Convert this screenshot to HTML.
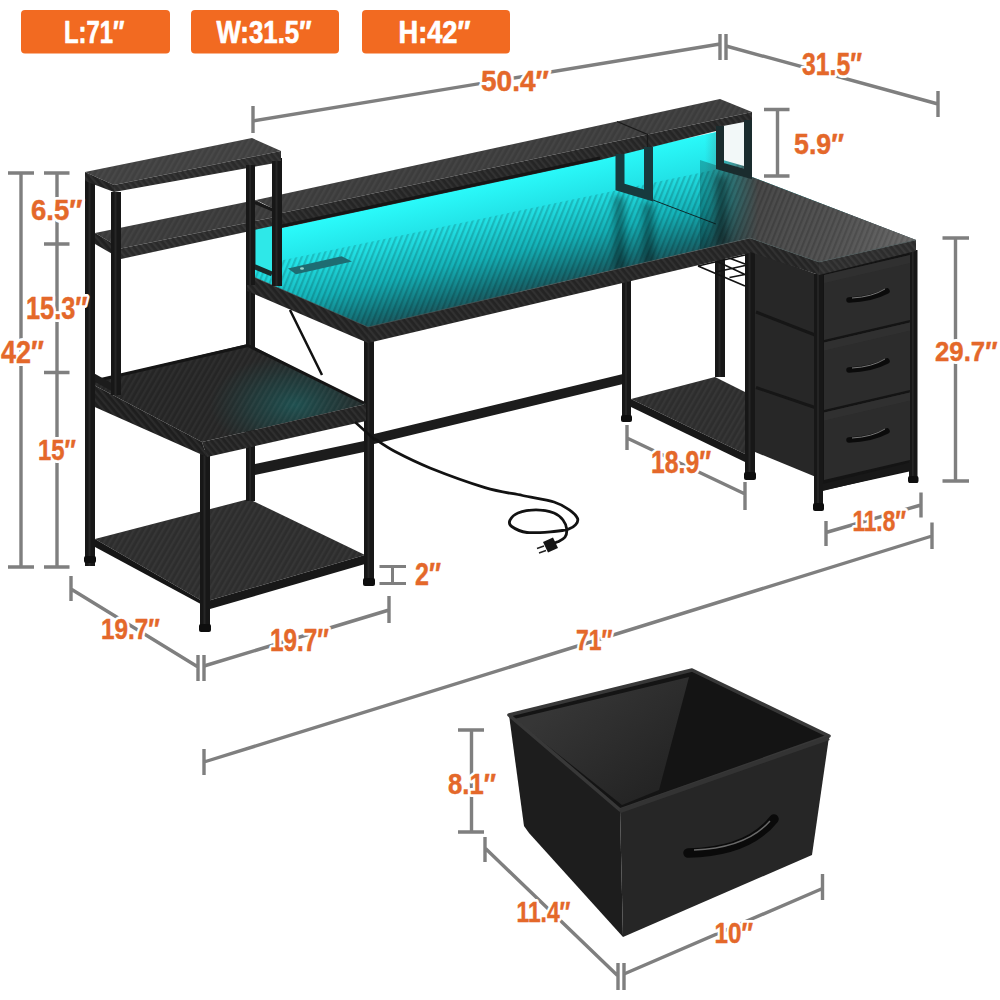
<!DOCTYPE html>
<html><head><meta charset="utf-8">
<style>
html,body{margin:0;padding:0;background:#fff;width:1000px;height:1000px;overflow:hidden}
svg{display:block}
.dl{stroke:#7f7f7f;stroke-width:3.4;fill:none;stroke-linecap:butt}
.lt{font-family:"Liberation Sans",sans-serif;font-weight:bold;fill:#fff;stroke:#fff;stroke-width:0.7;stroke-linejoin:round}
</style></head>
<body>
<svg width="1000" height="1000" viewBox="0 0 1000 1000">
<defs>
  <linearGradient id="gDesk" gradientUnits="userSpaceOnUse" x1="500" y1="180" x2="527" y2="298">
    <stop offset="0" stop-color="#2afafa"/>
    <stop offset="0.3" stop-color="#22e2e6"/>
    <stop offset="0.6" stop-color="#14b2b8"/>
    <stop offset="0.85" stop-color="#147278"/>
    <stop offset="1" stop-color="#1e4e54"/>
  </linearGradient>
  <linearGradient id="gDeskR" gradientUnits="userSpaceOnUse" x1="705" y1="0" x2="758" y2="0">
    <stop offset="0" stop-color="#555" stop-opacity="0"/>
    <stop offset="1" stop-color="#555" stop-opacity="1"/>
  </linearGradient>
  <linearGradient id="gRetSpec" gradientUnits="userSpaceOnUse" x1="700" y1="200" x2="910" y2="250">
    <stop offset="0" stop-color="#000" stop-opacity="0.25"/>
    <stop offset="0.45" stop-color="#000" stop-opacity="0.05"/>
    <stop offset="1" stop-color="#fff" stop-opacity="0.14"/>
  </linearGradient>
  <linearGradient id="gBinL" gradientUnits="userSpaceOnUse" x1="560" y1="700" x2="640" y2="800">
    <stop offset="0" stop-color="#363636"/>
    <stop offset="1" stop-color="#242424"/>
  </linearGradient>
  <linearGradient id="gShelf" gradientUnits="userSpaceOnUse" x1="120" y1="0" x2="360" y2="0">
    <stop offset="0" stop-color="#2e2e2e"/>
    <stop offset="0.55" stop-color="#263c3c"/>
    <stop offset="1" stop-color="#205052"/>
  </linearGradient>
  <radialGradient id="gShelfR" gradientUnits="userSpaceOnUse" cx="295" cy="405" r="85" gradientTransform="translate(295 405) scale(1 0.6) rotate(-20) translate(-295 -405)">
    <stop offset="0" stop-color="#1d5454" stop-opacity="0.9"/>
    <stop offset="0.5" stop-color="#1d4848" stop-opacity="0.55"/>
    <stop offset="1" stop-color="#1f4040" stop-opacity="0"/>
  </radialGradient>
  <linearGradient id="gDrawer" gradientUnits="userSpaceOnUse" x1="0" y1="0" x2="0" y2="1" >
    <stop offset="0" stop-color="#333"/><stop offset="1" stop-color="#262626"/>
  </linearGradient>
  <filter id="bl" x="-50%" y="-50%" width="200%" height="200%"><feGaussianBlur stdDeviation="3.5"/></filter>
  <pattern id="cf" width="5" height="5" patternUnits="userSpaceOnUse" patternTransform="rotate(30)">
    <rect width="2.2" height="5" fill="#fff" fill-opacity="0.045"/>
  </pattern>
  <pattern id="cfd" width="5" height="5" patternUnits="userSpaceOnUse" patternTransform="rotate(22)">
    <rect width="2.2" height="5" fill="#000" fill-opacity="0.17"/>
  </pattern>
  <pattern id="cff" width="5" height="5" patternUnits="userSpaceOnUse" patternTransform="rotate(-40)">
    <rect width="2.2" height="5" fill="#fff" fill-opacity="0.06"/>
  </pattern>
</defs>
<rect x="21" y="10" width="149" height="43.5" rx="4" fill="#f26a21"/>
<rect x="191" y="10" width="148" height="43.5" rx="4" fill="#f26a21"/>
<rect x="362" y="10" width="148" height="43.5" rx="4" fill="#f26a21"/>
<text class="lt" x="64" y="43.3" font-size="31" textLength="60.5" lengthAdjust="spacingAndGlyphs">L:71″</text>
<text class="lt" x="216.5" y="43.3" font-size="31" textLength="95" lengthAdjust="spacingAndGlyphs">W:31.5″</text>
<text class="lt" x="398.5" y="43.3" font-size="31" textLength="72" lengthAdjust="spacingAndGlyphs">H:42″</text>
<g class="dl">
  <path d="M253 106V133 M253 121 L720 44 M720 34V60 M726 34V60"/>
  <path d="M726 46 L938 104 M938 91V117"/>
  <path d="M764 109.5H789.5 M777.5 109.5V176 M764 176H789.5"/>
  <path d="M8 173H34 M21 173V567 M8 567H34"/>
  <path d="M44 173H69.5 M57 173V567 M44 244H69.5 M44 372.5H69.5 M44 567H69.5"/>
  <path d="M71 576V601 M71 589 L198 667 M198 655V681 M204 655V681"/>
  <path d="M204 666 L389 610 M389 596V623"/>
  <path d="M379.5 566.5H406 M392.5 566.5V583.5 M379.5 583.5H406" stroke-width="3"/>
  <path d="M627 425V450 M627 438 L745 494 M745 482V510"/>
  <path d="M942.5 238H969 M955.5 238V481 M942.5 481H969"/>
  <path d="M826 521V546 M826 532.5 L921 505 M921 492.5V517.5"/>
  <path d="M204 749V775 M204 762 L932 536 M932 522.5V549"/>
  <path d="M458 730H484 M471.5 730V832 M458 832H484"/>
  <path d="M485 837V862 M485 848 L618 976 M618 963V990 M624 963V990"/>
  <path d="M624 974 L822.5 888.5 M822.5 874V900"/>
</g>
<polygon points="255,464 364,441 364,452 255,475" fill="#1c1c1c" />
<polygon points="374,434 623,374 623,384 374,444" fill="#1c1c1c" />
<polygon points="95,539 249,499 365,555 204,602" fill="#2d2d2d" />
<polygon points="95,539 249,499 365,555 204,602" fill="url(#cf)"/>
<polygon points="95,539 204,602 210,609 95,547" fill="#161616" />
<polygon points="204,602 365,555 365,564 210,609" fill="#181818" />
<rect x="85" y="180" width="10" height="386" fill="#171717"/>
<rect x="88.5" y="180" width="2.0" height="386" fill="#262626"/>
<rect x="246" y="165" width="9" height="336" fill="#171717"/>
<rect x="249.2" y="165" width="1.8" height="336" fill="#262626"/>
<rect x="200" y="450" width="10" height="181" fill="#171717"/>
<rect x="203.5" y="450" width="2.0" height="181" fill="#262626"/>
<rect x="364" y="335" width="10" height="250" fill="#171717"/>
<rect x="367.5" y="335" width="2.0" height="250" fill="#262626"/>
<rect x="622" y="275" width="9" height="146" fill="#171717"/>
<rect x="625.1" y="275" width="1.8" height="146" fill="#262626"/>
<rect x="715" y="255" width="10" height="122" fill="#171717"/>
<rect x="718.5" y="255" width="2.0" height="122" fill="#262626"/>
<polygon points="631,399 715,377 745,392 745,454" fill="#2d2d2d" />
<polygon points="631,399 715,377 745,392 745,454" fill="url(#cf)"/>
<polygon points="631,399 745,454 745,462 631,407" fill="#181818" />
<rect x="745" y="250" width="10" height="229" fill="#171717"/>
<rect x="748.5" y="250" width="2.0" height="229" fill="#262626"/>
<g stroke="#121212" stroke-width="1.7" fill="none"><path d="M698 266 L745 286 M716 261 L745 274.5 M729 258 L745 264 M698 266 L745 255 M716 272 L745 265.5 M729.5 277.5 L745 274.5"/></g>
<polygon points="755,252 816,274 816,477 755,452" fill="#272727" />
<path d="M756 312 L815 335 M756 387.5 L815 407.5" stroke="#161616" stroke-width="3"/>
<polygon points="816,274 916,250 916,470 816,492" fill="#141414" />
<rect x="814" y="274" width="9" height="236" fill="#171717"/>
<rect x="817.1" y="274" width="1.8" height="236" fill="#262626"/>
<rect x="909" y="250" width="8.5" height="233" fill="#171717"/>
<rect x="912.0" y="250" width="1.7" height="233" fill="#262626"/>
<polygon points="824,275 910,255 910,320 824,340" fill="#2c2c2c"/>
<polygon points="824,275 910,255 910,263 824,283" fill="#333" fill-opacity="0.6"/>
<polygon points="824,342.5 910,322.5 910,390 824,410" fill="#2c2c2c"/>
<polygon points="824,342.5 910,322.5 910,330.5 824,350.5" fill="#333" fill-opacity="0.6"/>
<polygon points="824,412.5 910,392.5 910,460 824,480" fill="#2c2c2c"/>
<polygon points="824,412.5 910,392.5 910,400.5 824,420.5" fill="#333" fill-opacity="0.6"/>
<polygon points="822.5,484 910,462.5 910,470 822.5,491" fill="#181818" />
<g fill="none" stroke="#0b0b0b" stroke-width="5.5" stroke-linecap="round">
<path d="M849 300 Q872 299 887 291"/>
<path d="M849 370 Q872 369 887 361"/>
<path d="M849 440 Q872 439 887 431"/>
</g>
<g fill="none" stroke="#777" stroke-width="1">
<path d="M852 298 Q872 297 885 289"/>
<path d="M852 368 Q872 367 885 359"/>
<path d="M852 438 Q872 437 885 429"/>
</g>
<polygon points="247,274 255,228 282,228 752,124 752,177 916,240 819,262 750,238 367,328" fill="url(#gDesk)" />
<polygon points="600,160 752,124 752,177 916,240 819,262 750,238 600,273" fill="url(#gDeskR)" />
<polygon points="247,274 255,266 752,162 752,177 916,240 819,262 750,238 367,328" fill="none" style="fill:url(#cfd)"/>
<g filter="url(#bl)" fill="#000" fill-opacity="0.38"><rect x="614" y="196" width="11" height="75"/><rect x="643" y="203" width="11" height="62"/><rect x="716" y="176" width="11" height="70"/></g>
<path d="M653 200 L716 224" stroke="#0c2a2c" stroke-width="1" fill="none"/>
<polygon points="700,160 752,177 916,240 819,262 750,238 700,250" fill="url(#gRetSpec)" />
<polygon points="247,274 368,327 368,343 247,291" fill="#222" />
<polygon points="247,274 368,327 368,343 247,291" fill="url(#cff)"/>
<polygon points="368,327 750,238 750,253 368,343" fill="#242424" />
<polygon points="368,327 750,238 750,253 368,343" fill="url(#cff)"/>
<polygon points="750,238 819,262 819,275 750,252" fill="#242424" />
<polygon points="750,238 819,262 819,275 750,252" fill="url(#cff)"/>
<polygon points="819,262 916,240 916,251 819,275" fill="#2c2c2c" />
<polygon points="819,262 916,240 916,251 819,275" fill="url(#cff)"/>
<path d="M247 274 L368 327 L750 238 L819 262 L916 240" stroke="#5a6a6a" stroke-width="0.8" fill="none" stroke-opacity="0.6"/>
<polygon points="88,382 248,344 366,404 202,442" fill="#252525" />
<polygon points="88,382 248,344 366,404 202,442" fill="url(#gShelfR)" />
<polygon points="88,382 248,344 366,404 202,442" fill="none" style="fill:url(#cf)"/>
<path d="M90 382 L248 345.5 L364 403" stroke="#151515" stroke-width="3" fill="none" stroke-linejoin="round"/>
<polygon points="88,382 202,442 207,457 88,404" fill="#1e1e1e" />
<polygon points="88,382 202,442 207,457 88,404" fill="url(#cff)"/>
<polygon points="202,442 366,404 366,421 207,457" fill="#222" />
<polygon points="202,442 366,404 366,421 207,457" fill="url(#cff)"/>
<polygon points="255,226 272,222 272,272 255,266" fill="#2ee8e8" />
<path d="M253 226 V266 L272 274" fill="none" stroke="#1a2a2a" stroke-width="5"/>
<rect x="111" y="192" width="10" height="203" fill="#171717"/>
<rect x="114.5" y="192" width="2.0" height="203" fill="#262626"/>
<rect x="246" y="165" width="9" height="120" fill="#171717"/>
<rect x="249.2" y="165" width="1.8" height="120" fill="#262626"/>
<rect x="272" y="158" width="10" height="128" fill="#171717"/>
<rect x="275.5" y="158" width="2.0" height="128" fill="#262626"/>
<polygon points="85,172 252,138 281,151 114,185" fill="#404040" />
<polygon points="85,172 252,138 281,151 114,185" fill="url(#cf)"/>
<polygon points="85,172 114,185 114,192 85,181" fill="#222" />
<polygon points="85,172 114,185 114,192 85,181" fill="url(#cff)"/>
<polygon points="114,185 281,151 281,162 114,192" fill="#2a2a2a" />
<polygon points="114,185 281,151 281,162 114,192" fill="url(#cff)"/>
<polygon points="95,233 256,200 282,215.6 121,248.5" fill="#3a3a3a" />
<polygon points="95,233 256,200 282,215.6 121,248.5" fill="url(#cf)"/>
<polygon points="95,233 121,248.5 121,259 95,244" fill="#202020" />
<polygon points="95,233 121,248.5 121,259 95,244" fill="url(#cff)"/>
<polygon points="121,248.5 282,215.6 282,224 121,259" fill="#2a2a2a" />
<polygon points="121,248.5 282,215.6 282,224 121,259" fill="url(#cff)"/>
<path d="M90 375 L114 388.5" stroke="#1c1c1c" stroke-width="7" stroke-linecap="round"/>
<rect x="85" y="186" width="10" height="380" fill="#171717"/>
<rect x="88.5" y="186" width="2.0" height="380" fill="#262626"/>
<rect x="111" y="196" width="10" height="199" fill="#171717"/>
<rect x="114.5" y="196" width="2.0" height="199" fill="#262626"/>
<polygon points="256,200 720,99 752,112 282,213" fill="#3c3c3c" />
<polygon points="256,200 720,99 752,112 282,213" fill="url(#cf)"/>
<polygon points="282,213 752,112 752,122 600,160 282,228" fill="#252525" />
<polygon points="282,213 752,112 752,122 600,160 282,228" fill="url(#cff)"/>
<path d="M282 226 L600 158" stroke="#161616" stroke-width="3"/>
<path d="M617 121.5 L647.5 134.5 V147" stroke="#1a1a1a" stroke-width="1.2" fill="none"/>
<path d="M255 202.5 L273 210" stroke="#181818" stroke-width="3"/>
<rect x="246" y="165" width="9" height="120" fill="#171717"/>
<rect x="249.2" y="165" width="1.8" height="120" fill="#262626"/>
<rect x="272" y="161" width="10" height="125" fill="#171717"/>
<rect x="275.5" y="161" width="2.0" height="125" fill="#262626"/>
<polygon points="723,126 744,122 744,166 723,160" fill="#f2f8f8" />
<path d="M620 154 V187 L648.5 195.5 V147" fill="none" stroke="#173a3e" stroke-width="9"/>
<path d="M720 126 V166 L748 174 V120" fill="none" stroke="#1a2c2e" stroke-width="8"/>
<polygon points="288,268.6 341.6,256.2 352,261.4 296,274.2" fill="#1e6c72" />
<ellipse cx="302" cy="268.5" rx="2" ry="1.2" fill="#cfe" fill-opacity="0.7"/>
<path d="M290 310 L322 375 M355 422 L375 440" stroke="#111" stroke-width="2.5" fill="none"/>
<path d="M375 439 C378.3 441.1 385.8 446.8 395 451.6 C404.2 456.4 415.0 462.0 430 468 C445.0 474.0 469.6 483.0 485 487.6 C500.4 492.2 511.0 493.1 522.5 495.5 C534.0 497.9 546.1 499.5 554 502 C561.9 504.5 566.1 507.6 570 510.3 C573.9 513.0 576.5 516.0 577.5 518.4 C578.5 520.8 577.2 522.9 575.7 524.7 C574.2 526.5 572.1 528.1 568.5 529.2 C564.9 530.3 560.9 531.0 554 531.5 C547.1 532.0 534.0 533.3 527 532.5 C520.0 531.7 514.5 528.5 511.7 526.5 C508.9 524.5 508.9 522.5 510 520.2 C511.1 518.0 513.7 514.7 518 513 C522.3 511.3 530.0 509.9 536 509.9 C542.0 509.9 549.5 511.3 554 513 C558.5 514.7 560.9 517.3 563 520 C565.1 522.7 566.4 526.3 566.7 529.2 C567.0 532.1 566.4 535.2 564.9 537.3 C563.4 539.4 559.9 540.7 557.7 541.8 C555.6 542.9 553.0 543.6 552 544" stroke="#121212" stroke-width="2.8" fill="none" stroke-linecap="round"/>
<polygon points="543,542 553,537.5 558,548 548,552.5" fill="#151515" />
<path d="M544 546 L537 548.5 M546 550.5 L539 553" stroke="#222" stroke-width="1.4"/>
<g fill="#0e0e0e">
<rect x="84" y="556" width="12" height="7" rx="2"/>
<rect x="199" y="624" width="12" height="8" rx="2"/>
<rect x="363" y="578" width="12" height="8" rx="2"/>
<rect x="621" y="415" width="11" height="7" rx="2"/>
<rect x="744" y="472" width="12" height="8" rx="2"/>
<rect x="813" y="503" width="11" height="8" rx="2"/>
<rect x="908" y="476" width="10.5" height="7" rx="2"/>
</g>
<polygon points="509,715 620,810 623,937 529,833 524,826" fill="#1d1d1d" />
<polygon points="508,715 692,670 829,735 620,810" fill="#141414" />
<polygon points="514,719 689,677 659,790 622,805" fill="url(#gBinL)" />
<polygon points="509,715 692,670 829,736 620,810" fill="none" stroke="#383838" stroke-width="3.5" stroke-linejoin="round"/>
<polygon points="620,810 829,737 812,855 623,937" fill="#262626" />
<path d="M620 811 L829 738" stroke="#333" stroke-width="4"/>
<path d="M688 853 Q748 852 774 819" stroke="#0a0a0a" stroke-width="9.5" fill="none" stroke-linecap="round"/>
<path d="M694 850 Q746 848 770 821" stroke="#6a6a6a" stroke-width="1.4" fill="none"/>
<defs><g id="otx" font-family="Liberation Sans, sans-serif" font-weight="bold">
<text x="481" y="91" font-size="29.5" textLength="68" lengthAdjust="spacingAndGlyphs">50.4″</text>
<text x="802" y="75" font-size="30.5" textLength="60" lengthAdjust="spacingAndGlyphs">31.5″</text>
<text x="794" y="154" font-size="29.5" textLength="50" lengthAdjust="spacingAndGlyphs">5.9″</text>
<text x="31" y="220" font-size="29.5" textLength="51.5" lengthAdjust="spacingAndGlyphs">6.5″</text>
<text x="26" y="318.75" font-size="30.5" textLength="61.5" lengthAdjust="spacingAndGlyphs">15.3″</text>
<text x="1" y="362.5" font-size="31.5" textLength="43" lengthAdjust="spacingAndGlyphs">42″</text>
<text x="38" y="460" font-size="29.5" textLength="38" lengthAdjust="spacingAndGlyphs">15″</text>
<text x="101" y="639" font-size="29.5" textLength="59" lengthAdjust="spacingAndGlyphs">19.7″</text>
<text x="270" y="651" font-size="30.5" textLength="59" lengthAdjust="spacingAndGlyphs">19.7″</text>
<text x="415" y="585" font-size="30.5" textLength="26" lengthAdjust="spacingAndGlyphs">2″</text>
<text x="651" y="472.5" font-size="30.5" textLength="60" lengthAdjust="spacingAndGlyphs">18.9″</text>
<text x="935" y="361" font-size="28.5" textLength="62.5" lengthAdjust="spacingAndGlyphs">29.7″</text>
<text x="852.5" y="531" font-size="29.5" textLength="53.5" lengthAdjust="spacingAndGlyphs">11.8″</text>
<text x="576" y="650" font-size="29.5" textLength="36.5" lengthAdjust="spacingAndGlyphs">71″</text>
<text x="448" y="794" font-size="29.5" textLength="48" lengthAdjust="spacingAndGlyphs">8.1″</text>
<text x="516.5" y="922" font-size="29.5" textLength="54" lengthAdjust="spacingAndGlyphs">11.4″</text>
<text x="714.5" y="942.5" font-size="29.5" textLength="38.5" lengthAdjust="spacingAndGlyphs">10″</text>
</g></defs>
<use href="#otx" fill="#fff" stroke="#fff" stroke-width="6" stroke-linejoin="round"/>
<use href="#otx" fill="#e4682a" stroke="#e4682a" stroke-width="0.45" stroke-linejoin="round"/>
</svg>
</body></html>
